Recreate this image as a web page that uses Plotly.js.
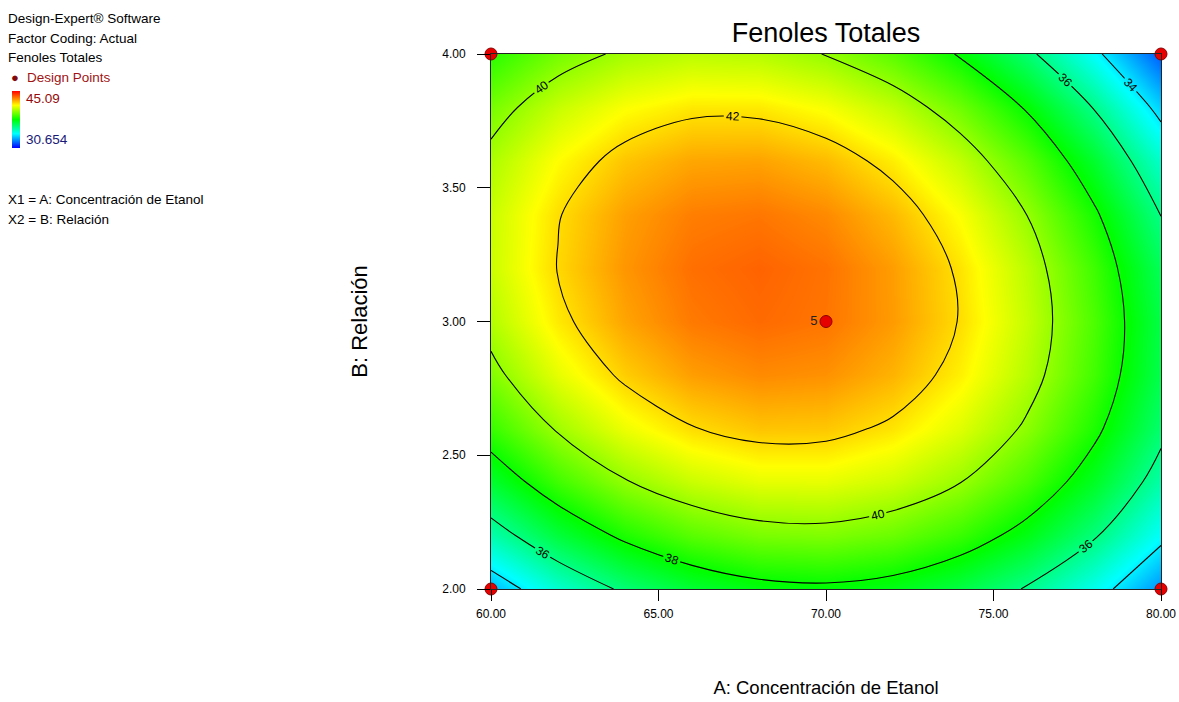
<!DOCTYPE html>
<html>
<head>
<meta charset="utf-8">
<script src="https://cdn.plot.ly/plotly-3.0.1.min.js"></script>
<style>html,body{margin:0;padding:0;background:#fff;}#chart{width:1179px;height:702px;}</style>
</head>
<body>
<div id="chart"></div>
<script>
// Factor A: Concentración de Etanol (grid columns)
const concEtanol = [60, 62, 64, 66, 68, 70, 72, 74, 76, 78, 80];
// Factor B: Relación (grid rows)
const relacion = [2.0, 2.2, 2.4, 2.6, 2.8, 3.0, 3.2, 3.4, 3.6, 3.8, 4.0];
// Fenoles Totales, estimated from the contour picture (rows follow relacion)
const fenoles = [
  [33.25, 34.93, 36.22, 37.13, 37.65, 37.79, 37.55, 36.92, 35.91, 34.51, 32.73],
  [35.41, 37.02, 38.25, 39.10, 39.57, 39.65, 39.34, 38.65, 37.58, 36.13, 34.29],
  [37.20, 38.75, 39.93, 40.71, 41.12, 41.14, 40.77, 40.03, 38.89, 37.38, 35.48],
  [38.63, 40.12, 41.23, 41.96, 42.31, 42.27, 41.84, 41.03, 39.84, 38.27, 36.31],
  [39.69, 41.13, 42.18, 42.85, 43.13, 43.03, 42.55, 41.68, 40.43, 38.79, 36.77],
  [40.39, 41.77, 42.76, 43.37, 43.59, 43.43, 42.89, 41.96, 40.65, 38.95, 36.87],
  [40.73, 42.04, 42.97, 43.52, 43.69, 43.47, 42.86, 41.87, 40.50, 38.75, 36.61],
  [40.70, 41.95, 42.83, 43.31, 43.42, 43.14, 42.47, 41.43, 39.99, 38.18, 35.98],
  [40.31, 41.50, 42.31, 42.74, 42.79, 42.45, 41.72, 40.61, 39.12, 37.25, 34.99],
  [39.55, 40.69, 41.44, 41.81, 41.79, 41.39, 40.61, 39.44, 37.89, 35.95, 33.63],
  [38.43, 39.51, 40.20, 40.51, 40.43, 39.97, 39.13, 37.90, 36.29, 34.29, 31.91]
];
// Design points
const designA = [60, 80, 60, 80, 70];
const designB = [2, 2, 4, 4, 3];
const designLabels = ['', '', '', '', '5'];
// Colour range of the response
const respMax = 45.09;
const respMin = 30.654;
// Contour levels
const levelStart = 34, levelEnd = 42, levelStep = 2;

const FONT = '"Liberation Sans", Arial, sans-serif';
const W = 1179, H = 702;
const L = 491, R = 1161, T = 54, B = 589;
const px2x = p => (p - L) / (R - L);
const px2y = p => (B - p) / (B - T);

const cscale = [[0, 'rgb(0,0,255)'], [0.25, 'rgb(0,255,255)'], [0.5, 'rgb(0,255,0)'], [0.75, 'rgb(255,255,0)'], [1, 'rgb(255,0,0)']];

const traces = [
  {
    type: 'heatmap', x: concEtanol, y: relacion, z: fenoles,
    zmin: respMin, zmax: respMax, zsmooth: 'best', colorscale: cscale,
    hoverinfo: 'skip',
    showscale: true,
    colorbar: {
      xref: 'container', x: 12 / W, xanchor: 'left',
      yref: 'container', y: 1 - 119 / H, yanchor: 'top',
      lenmode: 'pixels', len: 57, thicknessmode: 'pixels', thickness: 8,
      outlinewidth: 0, showticklabels: false, ticks: '', xpad: 0, ypad: 0
    }
  },
  {
    type: 'contour', x: concEtanol, y: relacion, z: fenoles,
    showscale: false, hoverinfo: 'skip',
    contours: {
      start: levelStart, end: levelEnd, size: levelStep, coloring: 'none',
      showlabels: true, labelfont: {family: FONT, size: 12, color: '#000'}
    },
    line: {color: '#000', width: 1.1, smoothing: 1}
  },
  {
    type: 'scatter', mode: 'markers+text', x: designA, y: designB,
    text: designLabels, textposition: 'middle left',
    textfont: {family: FONT, size: 13, color: '#222'},
    marker: {color: 'rgb(230,0,0)', size: 12, line: {color: 'rgb(140,0,0)', width: 1}},
    cliponaxis: false, hoverinfo: 'skip'
  }
];

const ann = (txt, xp, yp, color, size) => ({
  text: txt, xref: 'paper', yref: 'paper', x: px2x(xp), y: px2y(yp),
  xanchor: 'left', yanchor: 'middle', showarrow: false,
  font: {family: FONT, size: size || 13.5, color: color || '#000'}
});

const layout = {
  width: W, height: H,
  margin: {l: L, r: W - R, t: T, b: H - B, pad: 0},
  paper_bgcolor: '#fff', plot_bgcolor: '#fff',
  showlegend: false,
  font: {family: FONT, color: '#000'},
  title: {text: 'Fenoles Totales', font: {family: FONT, size: 27, color: '#000'},
          x: 0.5, xref: 'paper', xanchor: 'center', y: 1 - 33 / H, yref: 'container', yanchor: 'middle'},
  xaxis: {
    range: [60, 80], tick0: 60, dtick: 5, tickformat: '.2f',
    ticks: 'outside', ticklen: 11, tickcolor: '#000', tickwidth: 1,
    ticklabelstandoff: 3,
    tickfont: {family: FONT, size: 12, color: '#000'},
    showline: true, linecolor: '#222', linewidth: 1, mirror: true,
    showgrid: false, zeroline: false,
    title: {text: 'A: Concentración de Etanol', font: {family: FONT, size: 18.5, color: '#000'}, standoff: 60}
  },
  yaxis: {
    range: [2, 4], tick0: 2, dtick: 0.5, tickformat: '.2f',
    ticks: 'outside', ticklen: 13, tickcolor: '#000', tickwidth: 1,
    ticklabelstandoff: 9,
    tickfont: {family: FONT, size: 12, color: '#000'},
    showline: true, linecolor: '#222', linewidth: 1, mirror: true,
    showgrid: false, zeroline: false,
    title: {text: 'B: Relación', font: {family: FONT, size: 22, color: '#000'}, standoff: 68}
  },
  annotations: [
    ann('Design-Expert® Software', 6, 18),
    ann('Factor Coding: Actual', 6, 38),
    ann('Fenoles Totales', 6, 58),
    ann('●', 9, 78, 'rgb(130,10,10)', 13),
    ann('Design Points', 25, 78, 'rgb(160,20,20)'),
    ann(String(respMax), 24, 98, 'rgb(150,10,10)'),
    ann(String(respMin), 24, 139, 'rgb(25,25,120)'),
    ann('X1 = A: Concentración de Etanol', 6, 199),
    ann('X2 = B: Relación', 6, 219)
  ]
};

Plotly.newPlot('chart', traces, layout, {displayModeBar: false, staticPlot: true});
</script>
</body>
</html>
